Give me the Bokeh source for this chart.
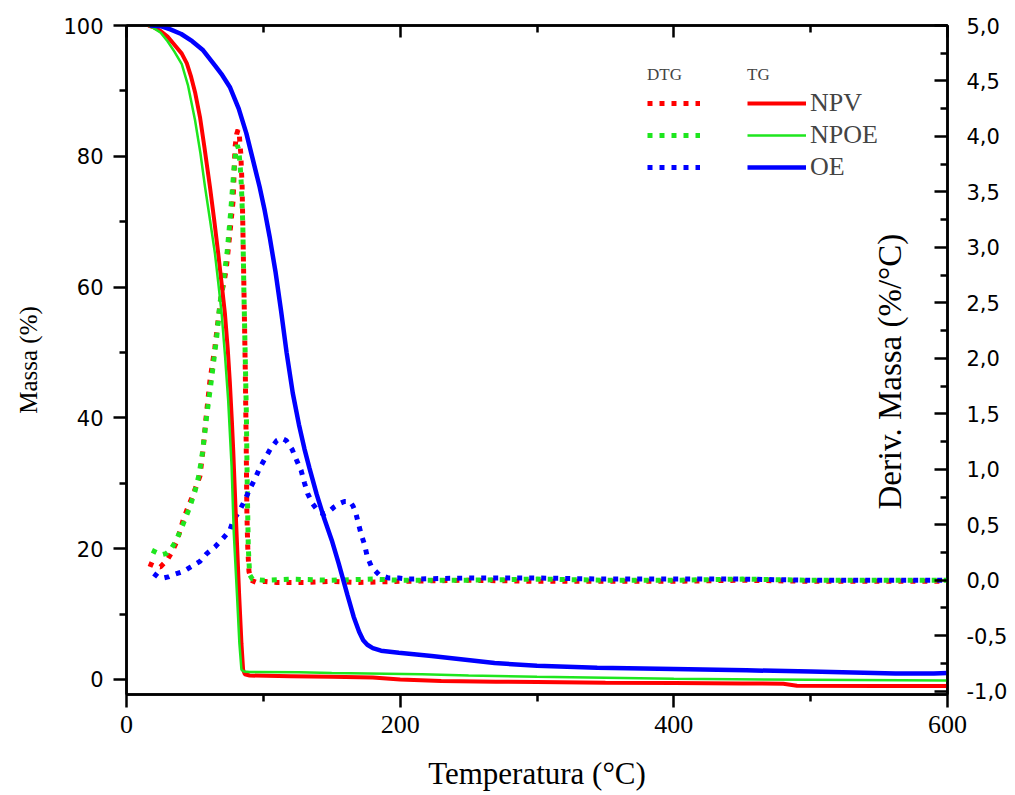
from bokeh.plotting import figure
from bokeh.models import (Range1d, LinearAxis, FixedTicker, CustomJSTickFormatter,
                          Legend, LegendItem, Label)
from bokeh.embed import file_html
from bokeh.resources import INLINE

# ---------------- data ----------------
# TG (left axis, Massa %)
npv_tg_t = [16, 20, 24.7, 30, 34.4, 40.4, 44.1, 47, 50.1, 53.7, 57, 61, 64, 67, 69.5,
            71.9, 74, 75.5, 77, 78, 80, 82.3, 84, 85.2, 86.5, 90, 120, 150, 180, 200,
            230, 270, 300, 350, 400, 450, 480, 490, 550, 600]
npv_tg_m = [100, 99.7, 99.2, 98.3, 97.2, 95.7, 94.2, 92.3, 89.8, 86.0, 81.3, 75.3, 70.4, 65.2, 60.6,
            56, 50.5, 45.5, 39.5, 35, 24.5, 13, 5.5, 1.5, 0.8, 0.6, 0.5, 0.4, 0.3, 0.0,
            -0.25, -0.35, -0.4, -0.5, -0.55, -0.6, -0.65, -0.95, -1.0, -1.0]

npoe_tg_t = [16, 20, 25, 30, 35, 40.4, 45, 50.1, 54, 57.4, 61, 64.6, 67, 69.5, 72,
             74.3, 76.8, 78.4, 80.8, 82.5, 84, 86, 90, 126, 150, 216, 250, 300, 400, 500, 600]
npoe_tg_m = [100, 99.6, 98.9, 97.6, 96.0, 94.1, 90.8, 85.5, 80.5, 75.3, 70.3, 65.2, 60.8, 56, 49.5,
             42.7, 32.6, 22.4, 12.7, 5.5, 1.5, 1.2, 1.15, 1.1, 1.0, 0.8, 0.6, 0.4, 0.1, -0.05, -0.15]

oe_tg_t = [17, 25, 32, 40, 48, 56, 65, 70, 75.5, 82, 87.6, 92, 97.3, 101, 104.6,
           109, 113, 117, 121.5, 126, 130, 133.6, 139, 144.5, 150, 155, 161.5, 166, 170, 173,
           176, 180, 186, 199, 223, 269, 300, 344, 400, 453, 500, 562, 590, 600]
oe_tg_m = [100, 99.9, 99.4, 98.7, 97.6, 96.2, 93.8, 92.4, 90.6, 87.3, 83.5, 79.8, 75.3, 71.7, 67.7,
           62.2, 56.3, 50, 43.8, 39, 35.3, 32.4, 28.3, 24.6, 21.3, 17.8, 12.9, 9.6, 7.3, 6.0,
           5.3, 4.8, 4.4, 4.1, 3.6, 2.5, 2.1, 1.8, 1.6, 1.4, 1.2, 0.9, 0.9, 1.0]

# DTG (right axis, Deriv. Massa %/°C)
npv_dtg_t = [16.2, 20, 24.7, 29.6, 33, 36.8, 41.6, 45, 48, 51, 53.7, 56, 58, 61, 64.6,
             67, 69.5, 71.5, 73, 75.5, 77.9, 79.3, 80.5, 81.5, 82.5, 83.5, 84.5, 85.3, 86, 86.8,
             87.5, 88, 88.6, 89.5, 91, 95, 100, 110, 130, 150, 170, 200, 250, 300, 350,
             400, 450, 500, 550, 600]
npv_dtg_d = [0.15, 0.13, 0.12, 0.18, 0.25, 0.35, 0.55, 0.66, 0.75, 0.85, 0.94, 1.18, 1.45, 1.8, 2.1,
             2.35, 2.59, 2.7, 2.82, 3.12, 3.42, 3.9, 4.02, 4.06, 4.0, 3.85, 3.55, 3.0, 2.5, 1.9,
             1.2, 0.6, 0.3, 0.08, 0.0, -0.02, -0.01, -0.02, -0.02, -0.01, -0.02, -0.01, 0.0, -0.01, -0.01,
             -0.01, 0.0, -0.01, -0.01, -0.01]

npoe_dtg_t = [18.6, 22, 25.9, 29, 31.9, 35.5, 39.2, 42.8, 46, 50, 53, 55.5, 58.6, 62,
              66, 68.3, 70, 73.5, 76, 78.5, 80, 81, 82, 83, 84, 85, 85.8, 86.8, 87.6,
              88.3, 89, 90, 92, 100, 120, 150, 180, 200, 250, 300, 350, 400, 450, 500, 550, 600]
npoe_dtg_d = [0.27, 0.25, 0.23, 0.24, 0.27, 0.34, 0.44, 0.55, 0.65, 0.8, 0.95, 1.15, 1.48, 1.8,
              2.2, 2.5, 2.62, 2.95, 3.3, 3.7, 3.88, 3.92, 3.88, 3.75, 3.55, 3.2, 2.6, 2.0, 1.5,
              0.8, 0.3, 0.05, 0.01, 0.0, 0.01, 0.0, 0.01, 0.0, 0.0, 0.01, 0.0, 0.0, 0.01, 0.0, 0.0, 0.0]

oe_dtg_t = [19.9, 23, 27, 30.5, 34.4, 41.6, 47, 53.7, 58.6, 64.6, 70.7, 75.5, 78, 82.8, 86.4,
            90, 93.7, 97.3, 100.9, 105, 109.9, 113.3, 116.7, 121, 124.4, 127.6, 130, 132.4, 136, 140.9,
            144.5, 148, 151.7, 155.4, 159.3, 163.2, 165.5, 167.5, 169.5, 171.6, 174, 176, 179.1, 184.5, 191.7,
            199, 206, 250, 300, 350, 400, 450, 500, 550, 600]
oe_dtg_d = [0.06, 0.03, 0.02, 0.03, 0.05, 0.08, 0.12, 0.17, 0.24, 0.30, 0.38, 0.45, 0.54, 0.63, 0.72,
            0.82, 0.91, 1.01, 1.09, 1.18, 1.26, 1.28, 1.26, 1.18, 1.08, 0.99, 0.88, 0.78, 0.69, 0.61,
            0.6, 0.62, 0.66, 0.69, 0.71, 0.71, 0.67, 0.61, 0.51, 0.41, 0.32, 0.21, 0.12, 0.05, 0.02,
            0.02, 0.01, 0.02, 0.02, 0.01, 0.01, 0.01, 0.0, 0.0, 0.0]

series_names = ["NPV", "NPOE", "OE"]
x_ticks = [0, 200, 400, 600]
x_minor = [100, 300, 500]
y_ticks = [0, 20, 40, 60, 80, 100]
y_minor = [10, 30, 50, 70, 90]
y2_ticks = [-1.0, -0.5, 0.0, 0.5, 1.0, 1.5, 2.0, 2.5, 3.0, 3.5, 4.0, 4.5, 5.0]
y2_minor = [-0.75, -0.25, 0.25, 0.75, 1.25, 1.75, 2.25, 2.75, 3.25, 3.75, 4.25, 4.75]

RED, GREEN, BLUE = "#ff0000", "#1ee61e", "#0000ff"
SERIF = "Liberation Serif"
SANS = "DejaVu Sans"

# ---------------- figure ----------------
p = figure(width=1010, height=793, x_range=Range1d(0, 600), y_range=Range1d(-2.3, 100),
           output_backend="svg", toolbar_location=None,
           min_border_left=126, min_border_right=58, min_border_top=25, min_border_bottom=98)
p.extra_y_ranges = {"dtg": Range1d(-1.03, 5)}
p.grid.visible = False
p.outline_line_color = "black"
p.outline_line_width = 2.5
p.background_fill_color = "white"
p.border_fill_color = "white"

# bottom axis
xa = p.xaxis[0]
xa.ticker = FixedTicker(ticks=x_ticks, minor_ticks=x_minor)
xa.axis_label = "Temperatura (°C)"
xa.axis_label_text_font = SERIF
xa.axis_label_text_font_size = "31px"
xa.axis_label_text_font_style = "normal"
xa.axis_label_standoff = 20
xa.major_label_text_font = SERIF
xa.major_label_text_font_size = "26px"
xa.major_label_standoff = 8

# left axis
ya = p.yaxis[0]
ya.ticker = FixedTicker(ticks=y_ticks, minor_ticks=y_minor)
ya.axis_label = "Massa (%)"
ya.axis_label_text_font = SERIF
ya.axis_label_text_font_size = "25px"
ya.axis_label_text_font_style = "normal"
ya.axis_label_standoff = 18
ya.major_label_text_font = SANS
ya.major_label_text_font_size = "21px"
ya.major_label_standoff = 10

for ax in (xa, ya):
    ax.axis_line_width = 2.5
    ax.major_tick_line_width = 2.5
    ax.minor_tick_line_width = 2.5
    ax.major_tick_in = 0
    ax.major_tick_out = 13
    ax.minor_tick_in = 0
    ax.minor_tick_out = 7
    ax.major_label_text_color = "black"
    ax.axis_label_text_color = "black"

# right axis
ra = LinearAxis(y_range_name="dtg", ticker=FixedTicker(ticks=y2_ticks, minor_ticks=y2_minor),
                formatter=CustomJSTickFormatter(code="return tick.toFixed(1).replace('.', ',');"))
ra.major_label_text_font = SANS
ra.major_label_text_font_size = "21px"
ra.major_label_text_color = "black"
ra.major_label_standoff = 19
ra.major_tick_in = 13
ra.major_tick_out = 0
ra.minor_tick_in = 7
ra.minor_tick_out = 0
ra.axis_line_width = 2.5
ra.major_tick_line_width = 2.5
ra.minor_tick_line_width = 2.5
p.add_layout(ra, "right")

# top axis (ticks only, no labels)
ta = LinearAxis(ticker=FixedTicker(ticks=x_ticks, minor_ticks=x_minor))
ta.major_label_text_font_size = "1px"
ta.major_label_text_color = None
ta.major_label_standoff = 0
ta.major_tick_in = 12
ta.major_tick_out = 0
ta.minor_tick_in = 7
ta.minor_tick_out = 0
ta.axis_line_width = 2.5
ta.major_tick_line_width = 2.5
ta.minor_tick_line_width = 2.5
p.add_layout(ta, "above")

# ---------------- curves ----------------
dot = dict(line_dash="5 7", line_width=5, line_cap="butt", y_range_name="dtg")
d1 = p.line(npv_dtg_t, npv_dtg_d, color=RED, **dot)
d2 = p.line(npoe_dtg_t, npoe_dtg_d, color=GREEN, **dot)
d3 = p.line(oe_dtg_t, oe_dtg_d, color=BLUE, **dot)

t1 = p.line(npv_tg_t, npv_tg_m, color=RED, line_width=4)
t2 = p.line(npoe_tg_t, npoe_tg_m, color=GREEN, line_width=2.5)
t3 = p.line(oe_tg_t, oe_tg_m, color=BLUE, line_width=4.5)

# ---------------- legends ----------------
common = dict(title_text_font=SERIF, title_text_font_size="17px", title_text_font_style="normal",
              label_text_font=SERIF, label_text_font_size="26px",
              glyph_height=30, label_height=30, spacing=2, padding=0, margin=0,
              border_line_color=None, background_fill_alpha=0, title_standoff=3,
              label_standoff=4)
leg1 = Legend(items=[LegendItem(label=" ", renderers=[r]) for r in (d1, d2, d3)],
              location=(521, 512), title="DTG", glyph_width=53, **common)
leg2 = Legend(items=[LegendItem(label=n, renderers=[r]) for n, r in zip(series_names, (t1, t2, t3))],
              location=(621, 512), title="TG", glyph_width=59, **common)
p.add_layout(leg1)
p.add_layout(leg2)

# right axis title (drawn inside the frame, as in the reference)
p.add_layout(Label(x=558, y=1.88, y_range_name="dtg", text="Deriv. Massa (%/°C)",
                   angle=90, angle_units="deg", text_align="center", text_baseline="middle",
                   text_font=SERIF, text_font_size="33px", text_color="black"))

open("out.html", "w").write(file_html(p, INLINE))
